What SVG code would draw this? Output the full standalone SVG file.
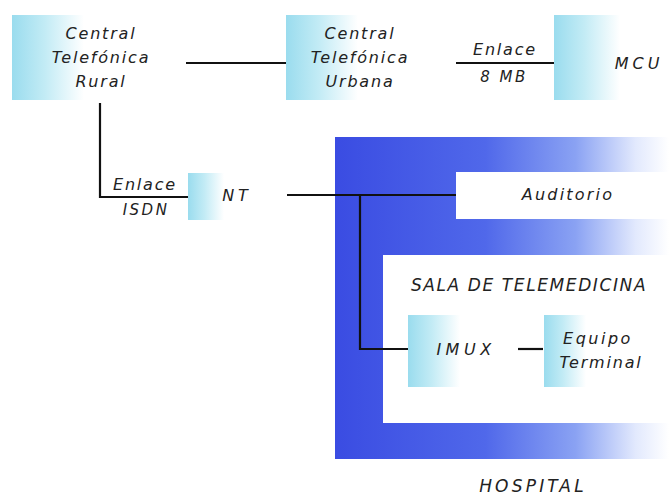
<svg xmlns="http://www.w3.org/2000/svg" width="669" height="498" viewBox="0 0 669 498">
<style>
text{font-family:"DejaVu Sans","Liberation Sans",sans-serif;font-style:italic;fill:#222;font-size:16px;letter-spacing:1.8px;text-anchor:middle}
.ln{stroke:#111;stroke-width:2.2;fill:none}
.box{fill:url(#cy)}
</style>
<defs>
<linearGradient id="cy" x1="0" y1="0" x2="1" y2="0">
<stop offset="0" stop-color="#9adcee"/>
<stop offset="0.45" stop-color="#c2ebf5"/>
<stop offset="1" stop-color="#ffffff"/>
</linearGradient>
<linearGradient id="bl" gradientUnits="userSpaceOnUse" x1="335" y1="0" x2="669" y2="0">
<stop offset="0" stop-color="#3a4ce2"/>
<stop offset="0.45" stop-color="#5068ea"/>
<stop offset="0.72" stop-color="#8aa2f3"/>
<stop offset="0.9" stop-color="#e2e9fd"/>
<stop offset="1" stop-color="#ffffff"/>
</linearGradient>
</defs>
<g id="hospital">
<rect x="335" y="137" width="334" height="322" fill="url(#bl)"/>
<text x="533" y="492" style="font-size:17px;letter-spacing:3.2px">HOSPITAL</text>
</g>
<g id="auditorio">
<rect x="456" y="172" width="213" height="47" fill="#ffffff"/>
<text x="568" y="200" style="font-size:16px;letter-spacing:2.2px">Auditorio</text>
</g>
<g id="sala">
<rect x="383" y="255" width="286" height="168" fill="#ffffff"/>
<text x="529" y="291" style="font-size:17px;letter-spacing:1.6px">SALA DE TELEMEDICINA</text>
</g>
<g id="connectors">
<line class="ln" x1="186" y1="63" x2="286" y2="63"/>
<line class="ln" x1="456" y1="63" x2="554" y2="63"/>
<polyline class="ln" points="100,103 100,197 188,197"/>
<line class="ln" x1="287" y1="195" x2="456" y2="195"/>
<polyline class="ln" points="360,195 360,349 408,349"/>
<line class="ln" x1="518" y1="349" x2="543" y2="349"/>
<text x="505" y="55" style="font-size:16px">Enlace</text>
<text x="504" y="82" style="font-size:15px;letter-spacing:2.5px">8 MB</text>
<text x="145" y="190" style="font-size:16px">Enlace</text>
<text x="146" y="215" style="font-size:15px;letter-spacing:2.5px">ISDN</text>
</g>
<g id="ctr">
<rect class="box" x="12" y="15" width="72" height="85"/>
<text x="101" y="39">Central</text>
<text x="101" y="63">Telefónica</text>
<text x="101" y="87">Rural</text>
</g>
<g id="ctu">
<rect class="box" x="286" y="15" width="72" height="85"/>
<text x="360" y="39">Central</text>
<text x="360" y="63">Telefónica</text>
<text x="360" y="87">Urbana</text>
</g>
<g id="mcu">
<rect class="box" x="554" y="15" width="66" height="85"/>
<text x="639" y="69" style="letter-spacing:4px">MCU</text>
</g>
<g id="nt">
<rect class="box" x="188" y="173" width="36" height="47"/>
<text x="237" y="201" style="letter-spacing:4px">NT</text>
</g>
<g id="imux">
<rect class="box" x="408" y="315" width="52" height="72"/>
<text x="466" y="355" style="letter-spacing:4.5px">IMUX</text>
</g>
<g id="equipo">
<rect class="box" x="544" y="315" width="42" height="72"/>
<text x="598" y="344" style="letter-spacing:2.5px">Equipo</text>
<text x="601" y="368">Terminal</text>
</g>
</svg>
